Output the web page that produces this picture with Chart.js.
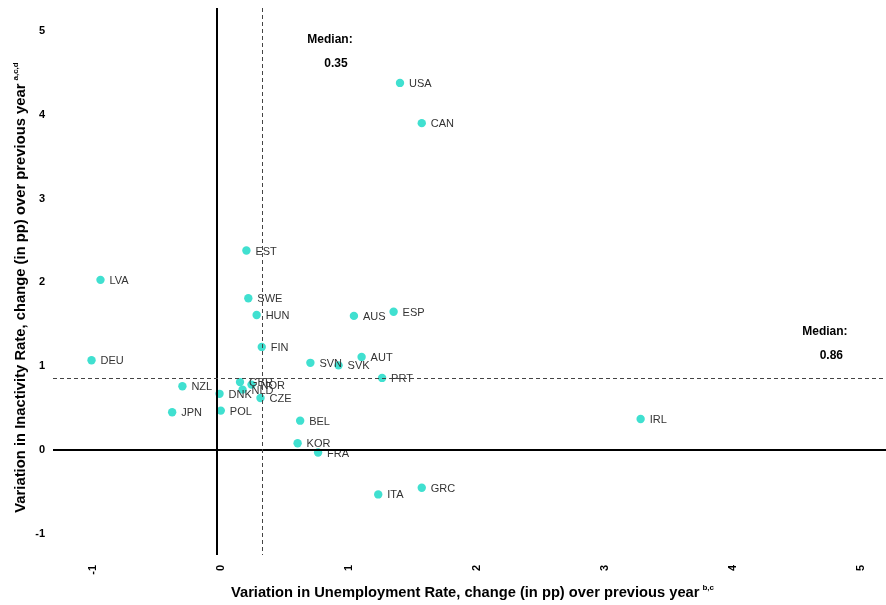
<!DOCTYPE html>
<html>
<head>
<meta charset="utf-8">
<script src="https://cdn.jsdelivr.net/npm/chart.js@4.4.1/dist/chart.umd.min.js"></script>
<style>
  html, body { margin: 0; padding: 0; background: #ffffff; }
  #wrap { width: 886px; height: 605px; }
</style>
</head>
<body>
<div id="wrap"><canvas id="chart" width="886" height="605"></canvas></div>
<script>
// Countries and their year-on-year changes (percentage points)
const countries = ['USA','CAN','EST','LVA','SWE','HUN','AUS','ESP','FIN','DEU','SVN','SVK','AUT','PRT','IRL','NZL','JPN','GBR','NLD','NOR','DNK','CZE','POL','BEL','KOR','FRA','ITA','GRC'];
const unemploymentChange = [1.43, 1.60, 0.23, -0.91, 0.245, 0.31, 1.07, 1.38, 0.35, -0.98, 0.73, 0.95, 1.13, 1.29, 3.31, -0.27, -0.35, 0.18, 0.20, 0.27, 0.02, 0.34, 0.03, 0.65, 0.63, 0.79, 1.26, 1.60];
const inactivityChange   = [4.38, 3.90, 2.38, 2.03, 1.81, 1.61, 1.60, 1.65, 1.23, 1.07, 1.04, 1.01, 1.11, 0.86, 0.37, 0.76, 0.45, 0.81, 0.72, 0.78, 0.67, 0.62, 0.47, 0.35, 0.08, -0.03, -0.53, -0.45];

const xTickValues = [-1, 0, 1, 2, 3, 4, 5];
const yTickValues = [-1, 0, 1, 2, 3, 4, 5];

const medianUnemployment = 0.35;
const medianInactivity = 0.86;

const xTitle = 'Variation in Unemployment Rate, change (in pp) over previous year';
const xTitleNote = 'b,c';
const yTitle = 'Variation in Inactivity Rate, change (in pp) over previous year';
const yTitleNote = 'a,c,d';

const FONT = '"Liberation Sans", Arial, Helvetica, sans-serif';

const points = countries.map((c, i) => ({ x: unemploymentChange[i], y: inactivityChange[i] }));

const overlay = {
  id: 'overlay',
  afterDatasetsDraw(chart) {
    const { ctx, chartArea: a, scales: { x, y } } = chart;
    const meta = chart.getDatasetMeta(0);
    ctx.save();

    // country codes beside each marker
    ctx.font = '11px ' + FONT;
    ctx.fillStyle = '#333333';
    ctx.textAlign = 'left';
    ctx.textBaseline = 'middle';
    meta.data.forEach((pt, i) => ctx.fillText(countries[i], pt.x + 9, pt.y + 1));

    const seg = (x1, y1, x2, y2) => { ctx.beginPath(); ctx.moveTo(x1, y1); ctx.lineTo(x2, y2); ctx.stroke(); };

    // zero reference lines
    ctx.strokeStyle = '#000000';
    ctx.lineWidth = 2;
    const x0 = Math.round(x.getPixelForValue(0));
    const y0 = Math.round(y.getPixelForValue(0));
    seg(x0, a.top, x0, a.bottom);
    seg(a.left, y0, a.right, y0);

    // median lines
    ctx.strokeStyle = '#444444';
    ctx.lineWidth = 1;
    ctx.setLineDash([4, 3]);
    const mx = Math.round(x.getPixelForValue(medianUnemployment)) + 0.5;
    const my = Math.round(y.getPixelForValue(medianInactivity)) + 0.5;
    seg(mx, a.top, mx, a.bottom);
    seg(a.left, my, a.right, my);
    ctx.setLineDash([]);

    // median notes
    ctx.fillStyle = '#000000';
    ctx.font = 'bold 12px ' + FONT;
    ctx.textAlign = 'center';
    ctx.fillText('Median:', x.getPixelForValue(0.883), y.getPixelForValue(4.89));
    ctx.fillText(medianUnemployment.toFixed(2), x.getPixelForValue(0.93), y.getPixelForValue(4.61));
    ctx.fillText('Median:', x.getPixelForValue(4.75), y.getPixelForValue(1.41));
    ctx.fillText(medianInactivity.toFixed(2), x.getPixelForValue(4.80), y.getPixelForValue(1.12));

    ctx.restore();
  },
  afterDraw(chart) {
    const { ctx, chartArea: a } = chart;
    ctx.save();
    ctx.fillStyle = '#000000';
    ctx.textBaseline = 'alphabetic';
    ctx.textAlign = 'left';

    // horizontal axis title with note marker
    ctx.font = 'bold 14.7px ' + FONT;
    const w = ctx.measureText(xTitle).width;
    ctx.font = 'bold 8px ' + FONT;
    const wn = ctx.measureText(xTitleNote).width;
    const cx = (a.left + a.right) / 2 + 3;
    const sx = cx - (w + 3 + wn) / 2;
    ctx.font = 'bold 14.7px ' + FONT;
    ctx.fillText(xTitle, sx, 597);
    ctx.font = 'bold 8px ' + FONT;
    ctx.fillText(xTitleNote, sx + w + 3, 590);

    // vertical axis title with note marker
    ctx.translate(25, (a.top + a.bottom) / 2 + 6);
    ctx.rotate(-Math.PI / 2);
    ctx.font = 'bold 14.8px ' + FONT;
    const h = ctx.measureText(yTitle).width;
    ctx.font = 'bold 8px ' + FONT;
    const hn = ctx.measureText(yTitleNote).width;
    const sy = -(h + 3 + hn) / 2;
    ctx.font = 'bold 14.8px ' + FONT;
    ctx.fillText(yTitle, sy, 0);
    ctx.font = 'bold 8px ' + FONT;
    ctx.fillText(yTitleNote, sy + h + 3, -7);

    ctx.restore();
  }
};

new Chart(document.getElementById('chart'), {
  type: 'scatter',
  data: {
    datasets: [{
      data: points,
      backgroundColor: '#40E0D0',
      borderWidth: 0,
      pointRadius: 4.2,
      pointHoverRadius: 4.2
    }]
  },
  options: {
    responsive: false,
    animation: false,
    devicePixelRatio: 1,
    layout: { autoPadding: false, padding: { top: 8, right: 0, left: 0, bottom: 0 } },
    plugins: { legend: { display: false }, tooltip: { enabled: false } },
    scales: {
      x: {
        type: 'linear',
        min: -1.281,
        max: 5.227,
        grid: { display: false, drawTicks: false },
        border: { display: false },
        afterBuildTicks(scale) { scale.ticks = xTickValues.map(v => ({ value: v })); },
        afterFit(scale) {
          scale.height = 50;
          scale.paddingLeft = 0;
          scale.paddingRight = 0;
        },
        ticks: {
          autoSkip: false,
          minRotation: 90,
          maxRotation: 90,
          padding: 10,
          labelOffset: 4,
          color: '#000000',
          font: { family: FONT, size: 11, weight: 'bold' },
          callback: v => String(v)
        }
      },
      y: {
        type: 'linear',
        min: -1.253,
        max: 5.274,
        grid: { display: false, drawTicks: false },
        border: { display: false },
        afterBuildTicks(scale) { scale.ticks = yTickValues.map(v => ({ value: v })); },
        afterFit(scale) {
          scale.width = 53;
          scale.paddingTop = 0;
          scale.paddingBottom = 0;
        },
        ticks: {
          padding: 8,
          color: '#000000',
          font: { family: FONT, size: 11, weight: 'bold' },
          callback: v => String(v)
        }
      }
    }
  },
  plugins: [overlay]
});
</script>
</body>
</html>
